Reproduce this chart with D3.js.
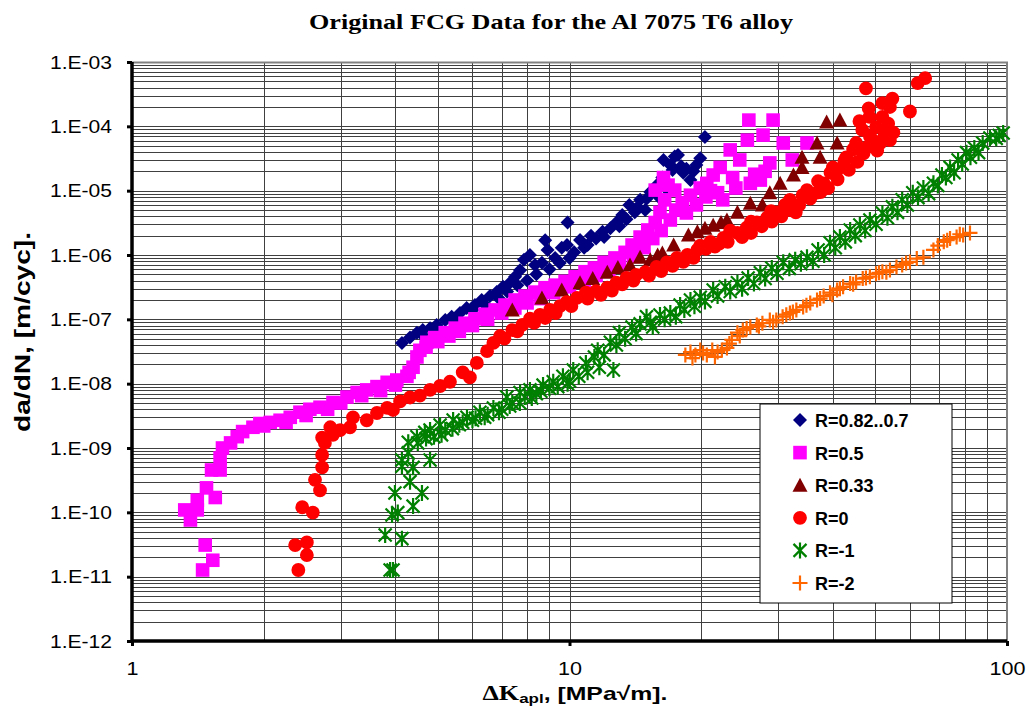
<!DOCTYPE html>
<html>
<head>
<meta charset="utf-8">
<script src="https://cdn.jsdelivr.net/npm/d3@7"></script>
<style>
  body { margin: 0; background: #fff; }
  svg { display: block; }
</style>
</head>
<body>
<div id="chart"></div>
<script>
// series labels and colours (legend order)
const seriesNames = ["R=0.82..0.7", "R=0.5", "R=0.33", "R=0", "R=-1", "R=-2"];
const seriesColors = ["#000080", "#ff00ff", "#800000", "#ff0000", "#008000", "#ff6600"];
const seriesShapes = ["diamond", "square", "triangle", "circle", "star", "plus"];

// [dK (MPa*sqrt(m)), da/dN (m/cyc)]
const rHigh = [
  [4.14,4.3e-8],[4.32,5.2e-8],[4.48,6.2e-8],[4.62,6.8e-8],[4.80,7.3e-8],[4.97,8.2e-8],
  [5.20,9.8e-8],[5.38,1.1e-7],[5.62,1.25e-7],[5.82,1.5e-7],[6.08,1.67e-7],[6.30,2.0e-7],
  [6.58,2.3e-7],[6.82,2.65e-7],[7.05,3.2e-7],[7.31,3.7e-7],[7.51,4.6e-7],[7.71,5.8e-7],
  [7.87,8.4e-7],[8.12,1.0e-6],[8.34,7.0e-7],[8.65,7.6e-7],[8.8,1.7e-6],[8.91,1.2e-6],
  [9.27,9.0e-7],[9.60,1.3e-6],[9.87,1.43e-6],[9.9,3.2e-6],[10.25,1.1e-6],[10.57,1.71e-6],
  [11.0,1.43e-6],[11.5,1.8e-6],[11.9,2.3e-6],[12.4,2.6e-6],[12.8,3.2e-6],[13.2,4.2e-6],
  [13.7,6.0e-6],[14.1,4.6e-6],[14.5,7.2e-6],[14.9,5.0e-6],[15.3,9.5e-6],[15.8,1.2e-5],
  [16.3,1.6e-5],[16.4,3.0e-5],[16.8,1.0e-5],[17.2,2.1e-5],[17.4,3.4e-5],[17.7,3.6e-5],
  [18.0,2.4e-5],[18.2,1.9e-5],[18.9,1.46e-5],[19.5,2.5e-5],[19.9,3.2e-5],[20.4,6.8e-5],
  [4.6,5.8e-8],[5.0,7.0e-8],[5.5,9.0e-8],[6.0,1.4e-7],[6.4,1.7e-7],[6.9,2.1e-7],
  [7.2,2.7e-7],[7.6,3.4e-7],[8.0,4.0e-7],[8.4,5.0e-7],[9.0,6.0e-7],[9.5,7.5e-7],
  [10.0,9.0e-7],[10.8,1.3e-6],[11.2,2.0e-6],[12.0,1.9e-6],[13.0,2.8e-6],[13.5,3.6e-6],
  [14.3,5.5e-6],[15.0,7.5e-6],[16.0,8.0e-6],[16.5,1.3e-5],[17.0,2.5e-5],[18.5,2.2e-5],
  [19.2,2.0e-5]
];
const rHalf = [
  [1.45,1.27e-11],[1.47,3.1e-11],[1.53,1.8e-11],[1.36,7.6e-11],[1.41,1.09e-10],[1.32,1.09e-10],
  [1.41,1.55e-10],[1.55,1.7e-10],[1.48,2.4e-10],[1.52,4.55e-10],[1.59,4.55e-10],[1.59,7.0e-10],
  [1.61,1.0e-9],[1.68,1.2e-9],[1.74,1.5e-9],[1.79,1.8e-9],[1.89,2.1e-9],[1.96,2.4e-9],
  [2.07,2.5e-9],[2.18,2.7e-9],[2.30,3.0e-9],[2.42,3.6e-9],[2.55,4.0e-9],[2.69,4.3e-9],
  [2.88,5.1e-9],[3.10,6.2e-9],[3.27,7.3e-9],[3.44,8.0e-9],[3.63,9.0e-9],[3.83,1.05e-8],
  [4.03,1.14e-8],[4.25,1.3e-8],[4.39,1.8e-8],[4.48,2.6e-8],[4.55,3.3e-8],[4.72,4.4e-8],
  [4.92,5.2e-8],[5.20,6.2e-8],[5.48,7.3e-8],[5.77,8.7e-8],[6.08,1.02e-7],[6.41,1.2e-7],
  [6.76,1.4e-7],[7.12,1.67e-7],[7.51,2.0e-7],[7.91,2.3e-7],[8.34,2.65e-7],[8.79,3.1e-7],
  [9.27,3.4e-7],[9.77,3.9e-7],[10.3,4.6e-7],[10.85,5.5e-7],[11.4,6.3e-7],[12.0,7.7e-7],
  [12.7,9.0e-7],[13.4,1.1e-6],[13.9,1.43e-6],[14.5,1.9e-6],[15.1,2.45e-6],[15.7,3.2e-6],
  [16.1,4.6e-6],[16.5,7.2e-6],[15.7,1.02e-5],[16.4,1.6e-5],[16.8,1.22e-5],[17.4,1.02e-5],
  [18.1,6.5e-6],[18.9,8.5e-6],[19.9,1.1e-5],[20.6,1.3e-5],[21.3,1.75e-5],[22.1,2.3e-5],
  [21.8,9.3e-6],[22.4,7.2e-6],[23.3,4.3e-5],[23.6,1.6e-5],[24.5,3.0e-5],[25.5,6.1e-5],
  [25.7,1.25e-4],[25.9,1.3e-5],[27.3,1.46e-5],[27.7,7.3e-5],[28.7,2.7e-5],[29.2,1.25e-4],
  [30.8,5.5e-5],[32.3,3.0e-5],[34.9,5.5e-5],
  [2.0,2.2e-9],[2.25,2.5e-9],[2.5,3.2e-9],[2.8,4.0e-9],[3.0,5.0e-9],[3.35,6.5e-9],
  [3.7,7.8e-9],[4.0,9.5e-9],[4.3,1.5e-8],[4.7,3.7e-8],[5.0,4.5e-8],[5.3,5.5e-8],
  [5.6,6.5e-8],[6.0,8.0e-8],[6.5,1.0e-7],[7.0,1.25e-7],[7.5,1.5e-7],[8.0,1.8e-7],
  [8.6,2.1e-7],[9.2,2.6e-7],[10.0,3.2e-7],[10.8,3.8e-7],[11.5,4.8e-7],[12.3,5.8e-7],
  [13.0,7.0e-7],[14.0,9.5e-7],[14.8,1.3e-6],[15.5,1.8e-6],[16.2,2.4e-6],[17.0,3.5e-6],
  [17.5,5.0e-6],[18.5,4.5e-6],[19.5,6.0e-6],[20.5,8.0e-6],[21.0,1.0e-5],[24.0,1.1e-5],
  [26.5,1.8e-5],[28.0,2.0e-5]
];
const rThird = [
  [7.4,1.4e-7],[8.65,2.15e-7],[9.6,2.86e-7],[10.57,3.7e-7],[11.3,4.3e-7],[12.2,5.4e-7],
  [12.9,6.4e-7],[13.75,7.0e-7],[14.5,9.2e-7],[15.3,8.4e-7],[15.9,1.0e-6],[16.3,1.07e-6],
  [17.3,1.43e-6],[18.7,2.04e-6],[19.6,2.3e-6],[20.4,2.6e-6],[21.3,2.9e-6],[22.2,3.2e-6],
  [22.9,3.5e-6],[24.2,4.6e-6],[25.9,6.4e-6],[27.6,6.0e-6],[28.7,9.3e-6],[30.3,1.3e-5],
  [32.5,1.75e-5],[34.0,2.3e-5],[34.0,3.3e-5],[37.4,3.3e-5],[36.8,5.5e-5],[40.9,5.5e-5],
  [38.7,1.17e-4],[41.5,1.25e-4]
];
const rZero = [
  [2.40,1.27e-11],[2.36,3.1e-11],[2.51,3.4e-11],[2.51,2.17e-11],[2.45,1.2e-10],[2.59,9.9e-11],
  [2.69,2.2e-10],[2.62,3.2e-10],[2.72,5.0e-10],[2.72,7.8e-10],[2.76,1.2e-9],[2.72,1.45e-9],
  [2.88,1.6e-9],[2.84,2.1e-9],[2.99,1.9e-9],[3.15,2.1e-9],[3.20,3.0e-9],[3.44,2.7e-9],
  [3.63,3.5e-9],[3.83,4.2e-9],[3.95,3.9e-9],[4.10,5.3e-9],[4.32,6.1e-9],[4.55,6.5e-9],
  [4.80,8.0e-9],[5.06,9.2e-9],[5.33,1.07e-8],[5.70,1.5e-8],[5.92,1.25e-8],[6.14,2.1e-8],
  [6.48,3.2e-8],[6.94,5.5e-8],[7.4,6.8e-8],[7.8,8.2e-8],[8.12,1.02e-7],[8.56,1.17e-7],
  [9.03,1.4e-7],[9.51,1.6e-7],[9.85,1.85e-7],[10.4,2.15e-7],[10.9,2.6e-7],[11.5,2.75e-7],
  [12.2,3.1e-7],[12.8,3.7e-7],[13.5,4.4e-7],[14.2,4.9e-7],[14.9,5.4e-7],[15.8,6.5e-7],
  [16.7,7.7e-7],[17.6,9.0e-7],[18.6,1.0e-6],[19.6,1.2e-6],[19.9,1.4e-6],[21.0,1.6e-6],
  [22.0,1.5e-6],[22.5,1.85e-6],[23.3,2.4e-6],[24.2,2.2e-6],[25.4,2.65e-6],[26.0,3.3e-6],
  [26.8,3.2e-6],[28.3,3.8e-6],[28.9,4.8e-6],[29.8,4.6e-6],[31.1,6.0e-6],[31.9,7.2e-6],
  [32.9,4.6e-6],[34.1,8.5e-6],[34.9,1.02e-5],[36.8,9.3e-6],[37.0,1.4e-5],[38.1,1.3e-5],
  [39.5,1.9e-5],[40.0,2.3e-5],[40.9,2.1e-5],[42.5,2.9e-5],[42.9,3.3e-5],[44.5,4.4e-5],
  [45.2,5.5e-5],[46.7,8.8e-5],[47.6,3.9e-4],[48.3,1.9e-4],[48.6,7.0e-5],[50.2,9.7e-5],
  [51.3,5.5e-5],[51.9,1.4e-4],[51.9,2.3e-4],[53.2,8.8e-5],[54.0,2.0e-4],[54.0,6.1e-5],
  [54.7,2.7e-4],[60.0,1.7e-4],[62.5,4.7e-4],[65.0,5.6e-4],
  [6.7,4.3e-8],[7.1,5.0e-8],[7.6,6.5e-8],[8.3,8.8e-8],[8.8,1.05e-7],[9.3,1.25e-7],
  [10.1,1.6e-7],[11.0,2.1e-7],[11.8,2.4e-7],[12.5,2.8e-7],[13.2,3.5e-7],[14.0,4.0e-7],
  [15.2,4.8e-7],[16.2,5.6e-7],[17.2,6.8e-7],[18.2,7.8e-7],[19.2,9.0e-7],[20.5,1.25e-6],
  [21.5,1.35e-6],[23.0,1.6e-6],[24.8,1.9e-6],[26.0,2.2e-6],[27.5,2.8e-6],[29.0,3.3e-6],
  [30.5,4.0e-6],[32.0,5.0e-6],[33.5,6.0e-6],[35.5,7.5e-6],[37.5,9.5e-6],[39.0,1.1e-5],
  [41.0,1.5e-5],[43.5,2.1e-5],[45.5,2.8e-5],[47.0,3.8e-5],[48.0,4.8e-5],[49.5,6.0e-5],
  [50.5,4.2e-5],[52.5,7.0e-5],[53.5,1.1e-4],[55.0,8.0e-5],[46.0,1.2e-4],[48.5,1.4e-4]
];
const rMinus1 = [
  [3.89,1.27e-11],[3.95,1.27e-11],[3.79,4.44e-11],[4.14,3.9e-11],[3.93,9.1e-11],[4.05,9.9e-11],
  [4.39,1.25e-10],[3.99,2.0e-10],[4.60,2.0e-10],[4.32,3.0e-10],[4.14,5.2e-10],[4.39,5.0e-10],
  [4.80,6.5e-10],[4.14,6.5e-10],[4.28,8.4e-10],[4.28,1.23e-9],[4.48,1.5e-9],[4.67,1.75e-9],
  [4.80,1.9e-9],[5.06,2.28e-9],[5.2,1.9e-9],[5.42,2.72e-9],[5.6,2.3e-9],[5.83,3.0e-9],
  [6.0,2.7e-9],[6.24,3.6e-9],[6.5,3.3e-9],[6.70,4.2e-9],[7.0,4.0e-9],[7.19,6.2e-9],
  [7.4,5.0e-9],[7.71,7.3e-9],[7.9,6.2e-9],[8.12,8.0e-9],[8.4,7.0e-9],[8.70,9.5e-9],
  [9.0,8.5e-9],[9.18,1.07e-8],[9.66,1.3e-8],[10.0,1.1e-8],[10.2,1.63e-8],[10.9,2.1e-8],
  [11.6,3.3e-8],[11.7,1.8e-8],[12.4,4.4e-8],[12.6,1.63e-8],[13.0,6.2e-8],[13.9,7.6e-8],
  [15.0,1.1e-7],[15.5,7.6e-8],[16.1,1.17e-7],[17.0,1.25e-7],[17.9,1.67e-7],[18.9,2.0e-7],
  [19.9,2.2e-7],[21.3,2.86e-7],[22.7,3.2e-7],[24.2,3.7e-7],[25.6,4.4e-7],[27.3,5.3e-7],
  [29.0,6.3e-7],[30.8,7.7e-7],[32.8,8.4e-7],[34.9,9.2e-7],[37.0,1.2e-6],[39.4,1.55e-6],
  [41.5,1.9e-6],[43.8,2.45e-6],[46.1,2.92e-6],[48.6,3.5e-6],[51.9,4.5e-6],[54.7,5.6e-6],
  [57.6,7.2e-6],[60.9,9.3e-6],[64.4,1.1e-5],[67.9,1.3e-5],[71.0,1.75e-5],[74.1,2.3e-5],
  [77.3,3.0e-5],[80.8,3.9e-5],[84.2,4.6e-5],[88.0,5.5e-5],[91.4,6.6e-5],[98.0,7.9e-5],
  [4.5,1.2e-9],[4.7,1.4e-9],[4.9,1.5e-9],[5.1,1.6e-9],[5.4,2.0e-9],[5.7,2.5e-9],
  [6.1,2.9e-9],[6.4,3.0e-9],[6.9,3.6e-9],[7.3,4.5e-9],[7.7,5.0e-9],[8.2,6.0e-9],
  [8.6,7.6e-9],[9.4,9.0e-9],[9.9,1.0e-8],[10.5,1.3e-8],[11.0,1.5e-8],[11.4,2.6e-8],
  [12.0,2.8e-8],[12.8,4.0e-8],[13.4,5.0e-8],[14.2,6.0e-8],[14.5,8.5e-8],[15.3,9.0e-8],
  [16.5,1.0e-7],[17.5,1.1e-7],[18.3,1.4e-7],[19.3,1.6e-7],[20.4,1.9e-7],[21.8,2.3e-7],
  [23.3,2.7e-7],[24.8,3.0e-7],[26.4,3.6e-7],[28.0,4.3e-7],[29.8,5.2e-7],[31.8,6.2e-7],
  [33.8,7.3e-7],[36.0,8.0e-7],[38.2,1.0e-6],[40.5,1.3e-6],[42.7,1.6e-6],[45.0,2.0e-6],
  [47.4,2.4e-6],[50.2,3.0e-6],[53.3,3.8e-6],[56.2,4.6e-6],[59.2,6.0e-6],[62.6,7.8e-6],
  [66.2,9.0e-6],[69.5,1.2e-5],[72.5,1.6e-5],[75.7,1.9e-5],[79.0,2.6e-5],[82.5,3.3e-5],
  [86.1,3.9e-5],[94.5,6.5e-5],[96.0,7.2e-5]
];
const rMinus2 = [
  [18.4,2.8e-8],[18.9,3.1e-8],[19.4,2.8e-8],[19.9,3.33e-8],[20.6,2.8e-8],[21.2,3.33e-8],
  [21.8,3.1e-8],[22.3,3.33e-8],[22.9,3.6e-8],[23.5,4.8e-8],[24.2,6.2e-8],[24.9,6.8e-8],
  [25.9,7.6e-8],[26.8,8.2e-8],[27.6,8.7e-8],[28.7,9.8e-8],[29.7,9.8e-8],[30.7,1.1e-7],
  [31.9,1.25e-7],[33.0,1.4e-7],[34.2,1.55e-7],[35.5,1.8e-7],[36.8,2.0e-7],[38.1,2.3e-7],
  [39.4,2.6e-7],[40.9,2.86e-7],[42.2,3.2e-7],[43.8,3.6e-7],[45.2,3.8e-7],[46.8,4.3e-7],
  [48.6,4.6e-7],[50.2,5.1e-7],[51.9,5.5e-7],[54.0,5.84e-7],[55.9,6.5e-7],[57.6,7.0e-7],
  [60.0,7.8e-7],[62.2,8.8e-7],[64.4,9.2e-7],[67.9,1.2e-6],[71.7,1.6e-6],[74.1,1.8e-6],
  [76.7,1.9e-6],[79.4,2.04e-6],[82.3,2.2e-6],
  [19.1,2.5e-8],[20.2,3.0e-8],[21.5,2.6e-8],[23.2,4.2e-8],[24.5,5.5e-8],[25.4,7.2e-8],
  [27.1,7.8e-8],[29.2,9.0e-8],[31.3,1.18e-7],[32.4,1.3e-7],[34.8,1.65e-7],[37.4,2.1e-7],
  [39.9,2.4e-7],[41.5,3.0e-7],[44.5,3.5e-7],[47.6,4.4e-7],[51.0,5.3e-7],[53.0,5.4e-7],
  [58.8,7.5e-7],[69.5,1.4e-6],[73.0,1.7e-6],[78.0,2.1e-6]
];
const seriesData = [rHigh, rHalf, rThird, rZero, rMinus1, rMinus2];

const xTickValues = [1, 10, 100];
const yTickValues = [1e-12, 1e-11, 1e-10, 1e-9, 1e-8, 1e-7, 1e-6, 1e-5, 1e-4, 1e-3];

const width = 1029, height = 719;
const margin = {left: 132, top: 62, right: 22, bottom: 78};
const plotW = width - margin.left - margin.right;
const plotH = height - margin.top - margin.bottom;
const sansFont = "'Liberation Sans', Arial, sans-serif";
const serifFont = "'Liberation Serif', 'Times New Roman', serif";

const svg = d3.select("#chart").append("svg")
  .attr("width", width).attr("height", height);

const x = d3.scaleLog().domain([1, 100]).range([0, plotW]);
const y = d3.scaleLog().domain([1e-12, 1e-3]).range([plotH, 0]);

const g = svg.append("g").attr("transform", `translate(${margin.left},${margin.top})`);

// grid lines (every 1..9 in each decade)
const xGrid = [], yGrid = [];
for (let e = 0; e < 2; e++) for (let k = 1; k < 10; k++) xGrid.push(k * Math.pow(10, e));
for (let e = -12; e < -3; e++) for (let k = 1; k < 10; k++) yGrid.push(k * Math.pow(10, e));

g.append("g").selectAll("line").data(xGrid).join("line")
  .attr("x1", d => Math.round(x(d)) + 0.5).attr("x2", d => Math.round(x(d)) + 0.5)
  .attr("y1", 0).attr("y2", plotH)
  .attr("stroke", "#404040").attr("stroke-width", 1);
g.append("g").selectAll("line").data(yGrid).join("line")
  .attr("y1", d => Math.round(y(d)) + 0.5).attr("y2", d => Math.round(y(d)) + 0.5)
  .attr("x1", 0).attr("x2", plotW)
  .attr("stroke", "#404040").attr("stroke-width", 1);

// top and right border in grey
g.append("path")
  .attr("d", `M0,0.5H${plotW}V${plotH}`)
  .attr("fill", "none").attr("stroke", "#808080").attr("stroke-width", 2);

// marker shapes
function markerPath(shape) {
  switch (shape) {
    case "diamond": return "M0,-7L7,0L0,7L-7,0Z";
    case "square": return "M-6.8,-6.8H6.8V6.8H-6.8Z";
    case "triangle": return "M0,-7.5L7.5,6.5H-7.5Z";
    case "circle": return d3.symbol(d3.symbolCircle, 150)();
    case "star": return "M-6.5,-6.5L6.5,6.5M-6.5,6.5L6.5,-6.5M0,-8V8";
    case "plus": return "M-7.5,0H7.5M0,-7.5V7.5";
  }
}

function drawMarkers(sel, shape, color) {
  const filled = shape !== "star" && shape !== "plus";
  sel.attr("d", markerPath(shape))
    .attr("fill", filled ? color : "none")
    .attr("stroke", filled ? "none" : color)
    .attr("stroke-width", filled ? 0 : 2.2);
}

const plotG = g.append("g");
seriesData.forEach((data, i) => {
  plotG.append("g").selectAll("path").data(data).join("path")
    .attr("transform", d => `translate(${x(d[0])},${y(d[1])})`)
    .call(drawMarkers, seriesShapes[i], seriesColors[i]);
});

// axes
const yAxis = d3.axisLeft(y).tickValues(yTickValues)
  .tickFormat(d => "1.E-" + String(-Math.round(Math.log10(d))).padStart(2, "0"))
  .tickSize(5).tickPadding(15);
const yAx = g.append("g").call(yAxis);
yAx.select(".domain").attr("stroke-width", 3.5).attr("d", `M0,0V${plotH}`);
yAx.selectAll(".tick line").attr("stroke-width", 3);
yAx.selectAll("text")
  .attr("font-family", sansFont).attr("font-size", 19).attr("fill", "#000")
  .attr("textLength", 62).attr("lengthAdjust", "spacingAndGlyphs");

const xAxis = d3.axisBottom(x).tickValues(xTickValues).tickFormat(d3.format("d"))
  .tickSize(5);
const xAx = g.append("g").attr("transform", `translate(0,${plotH})`).call(xAxis);
xAx.select(".domain").attr("stroke-width", 3.5).attr("d", `M0,0H${plotW}`);
xAx.selectAll(".tick line").attr("stroke-width", 3);
xAx.selectAll("text")
  .attr("y", 34).attr("dy", 0)
  .attr("font-family", sansFont).attr("font-size", 18).attr("fill", "#000")
  .attr("textLength", d => String(d).length * 12).attr("lengthAdjust", "spacingAndGlyphs");

// title
svg.append("text")
  .attr("x", 551).attr("y", 29)
  .attr("text-anchor", "middle")
  .attr("font-family", serifFont).attr("font-weight", "bold").attr("font-size", 21)
  .attr("textLength", 484).attr("lengthAdjust", "spacingAndGlyphs")
  .text("Original FCG Data for the Al 7075 T6 alloy");

// y label
svg.append("text")
  .attr("transform", "translate(30,332) rotate(-90)")
  .attr("text-anchor", "middle")
  .attr("font-family", sansFont).attr("font-weight", "bold").attr("font-size", 22)
  .attr("textLength", 200).attr("lengthAdjust", "spacingAndGlyphs")
  .text("da/dN, [m/cyc].");

// x label
const xl = svg.append("text")
  .attr("x", 575).attr("y", 700)
  .attr("text-anchor", "middle")
  .attr("font-family", sansFont).attr("font-weight", "bold").attr("font-size", 19)
  .attr("textLength", 185).attr("lengthAdjust", "spacingAndGlyphs");
xl.append("tspan").attr("font-family", serifFont).attr("font-size", 20).text("ΔK");
xl.append("tspan").attr("font-size", 13).attr("dy", 3).text("apl");
xl.append("tspan").attr("dy", -3).text(", [MPa√m].");

// legend
const lg = svg.append("g").attr("transform", "translate(760,404)");
lg.append("rect").attr("width", 192).attr("height", 199)
  .attr("fill", "#fff").attr("stroke", "#000").attr("stroke-width", 1);
seriesNames.forEach((name, i) => {
  const row = lg.append("g").attr("transform", `translate(40,${16 + i * 32.6})`);
  row.append("path").call(drawMarkers, seriesShapes[i], seriesColors[i]);
  row.append("text").attr("x", 15).attr("y", 7)
    .attr("font-family", sansFont).attr("font-weight", "bold").attr("font-size", 18)
    .text(name);
});
</script>
</body>
</html>
